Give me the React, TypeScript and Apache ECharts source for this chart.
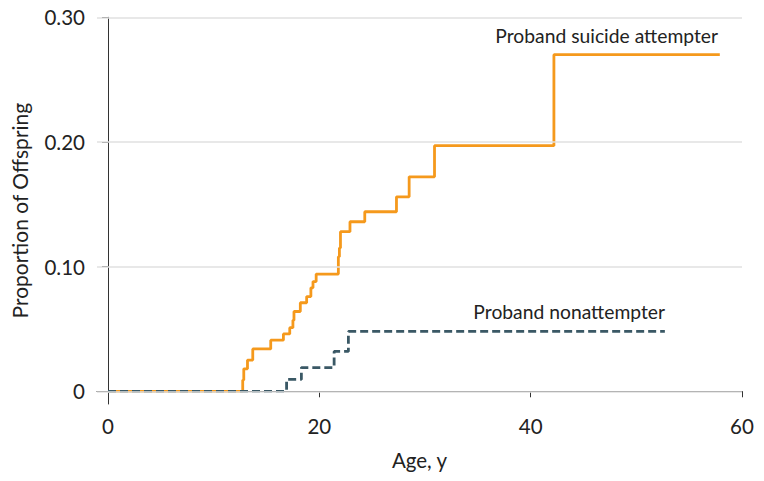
import React, { useEffect, useRef } from "react";
import * as echarts from "echarts";

// Age (years) at which each step occurs, and cumulative proportion after the step
const attempterAges = [0, 12.75, 12.85, 13.2, 13.7, 15.4, 16.6, 17.2, 17.5, 17.6, 18.2, 18.8, 19.2, 19.4, 19.7, 21.8, 21.9, 22.0, 22.9, 24.3, 27.3, 28.5, 30.9, 42.2, 57.9];
const attempterProps = [0, 0.009, 0.018, 0.025, 0.034, 0.041, 0.046, 0.051, 0.057, 0.064, 0.071, 0.076, 0.083, 0.088, 0.094, 0.108, 0.115, 0.128, 0.136, 0.144, 0.156, 0.172, 0.197, 0.27, 0.27];

const nonAttempterAges = [0, 16.9, 18.3, 21.4, 22.75, 52.7];
const nonAttempterProps = [0, 0.0095, 0.019, 0.032, 0.048, 0.048];

const xTicks = [0, 20, 40, 60];
const yTicks = [0, 0.1, 0.2, 0.3];

const seriesNames = ["Proband suicide attempter", "Proband nonattempter"];

const FONT = "Lato, 'Open Sans', sans-serif";

export default function App() {
  const ref = useRef<HTMLDivElement>(null);

  useEffect(() => {
    if (!ref.current) return;
    const chart = echarts.init(ref.current, undefined, { renderer: "svg" });
    const zip = (a: number[], b: number[]) => a.map((v, i) => [v, b[i]]);

    chart.setOption({
      animation: false,
      backgroundColor: "#ffffff",
      textStyle: { fontFamily: FONT },
      grid: { left: 97, right: 22, top: 17.3, bottom: 77, containLabel: false },
      xAxis: {
        type: "value",
        min: -1.041,
        max: 60,
        name: "Age, y",
        nameLocation: "middle",
        nameGap: 45,
        nameTextStyle: { fontSize: 20.5, color: "#222", fontFamily: FONT },
        axisLine: { show: true, lineStyle: { color: "#333", width: 1 } },
        axisTick: { show: true, length: 6, customValues: xTicks, lineStyle: { color: "#333" } },
        axisLabel: { customValues: xTicks, fontSize: 20.5, color: "#222", margin: 11, fontFamily: FONT },
        splitLine: { show: false },
      },
      yAxis: {
        type: "value",
        min: -0.0102,
        max: 0.3,
        name: "Proportion of Offspring",
        nameLocation: "middle",
        nameGap: 67,
        nameTextStyle: { fontSize: 21, color: "#222", fontFamily: FONT },
        axisLine: { show: true, lineStyle: { color: "#333", width: 1 } },
        axisTick: { show: true, length: 6, customValues: yTicks, lineStyle: { color: "#333" } },
        axisLabel: {
          customValues: yTicks,
          fontSize: 20.5,
          color: "#222",
          margin: 12,
          fontFamily: FONT,
          formatter: (v: number) => (Math.abs(v) < 1e-9 ? "0" : v.toFixed(2)),
        },
        splitLine: { show: false },
      },
      series: [
        {
          type: "line",
          name: "grid",
          data: [],
          silent: true,
          z: 0,
          markLine: {
            silent: true,
            symbol: ["none", "none"],
            label: { show: false },
            lineStyle: { color: "#e0e0e0", width: 1.5, type: "solid" },
            emphasis: { disabled: true },
            data: yTicks.map((t) => ({ yAxis: t })),
          },
        },
        {
          type: "line",
          name: seriesNames[0],
          step: "end",
          showSymbol: false,
          symbol: "none",
          z: 2,
          lineStyle: { color: "#F5991C", width: 2.8 },
          data: zip(attempterAges, attempterProps),
        },
        {
          type: "line",
          name: seriesNames[1],
          step: "end",
          showSymbol: false,
          symbol: "none",
          z: 3,
          lineStyle: { color: "#3a5865", width: 2.8, type: [8, 4] },
          data: zip(nonAttempterAges, nonAttempterProps),
        },
      ],
      graphic: [
        {
          type: "text",
          right: 764 - 718,
          top: 26,
          style: { text: seriesNames[0], fontSize: 19.3, fill: "#222", fontFamily: FONT },
        },
        {
          type: "text",
          right: 764 - 665,
          top: 302,
          style: { text: seriesNames[1], fontSize: 19.3, fill: "#222", fontFamily: FONT },
        },
      ],
    });
    return () => chart.dispose();
  }, []);

  return (
    <div
      ref={ref}
      style={{ position: "absolute", left: 0, top: 0, width: 764, height: 481 }}
    />
  );
}
